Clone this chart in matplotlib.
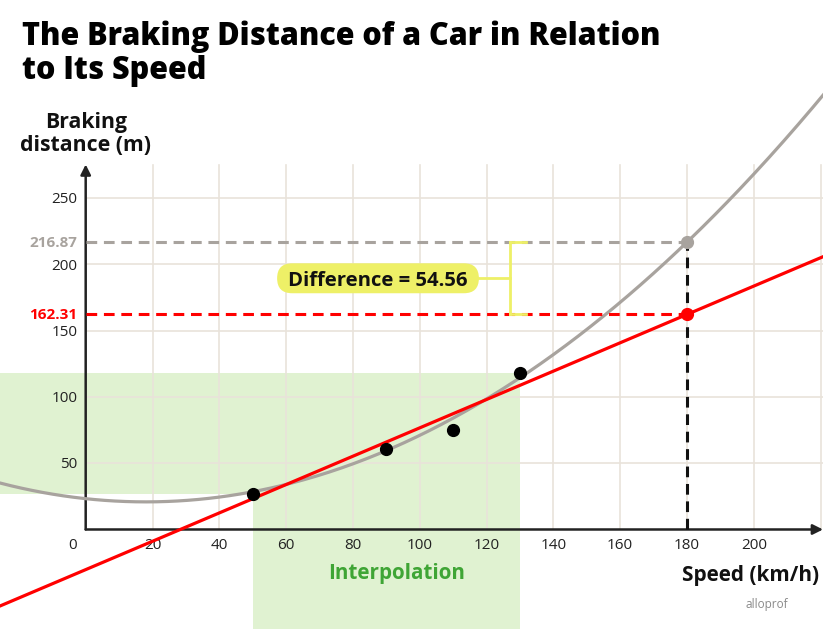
import numpy as np
import matplotlib
matplotlib.use("Agg")
import matplotlib.pyplot as plt
from matplotlib.patches import FancyBboxPatch, Rectangle

# ---- data ----
speeds = [50, 90, 110, 130]
distances = [26.8, 60.8, 75.1, 117.9]
quad_coef = [0.00747, -0.269, 23.26]      # curve of best fit (a, b, c)
lin_coef = [1.07, -30.29]                 # line of best fit (slope, intercept)
pred_speed = 180
pred_curve = 216.87
pred_line = 162.31
difference_label = "Difference = 54.56"
x_ticks = [0, 20, 40, 60, 80, 100, 120, 140, 160, 180, 200]
y_ticks = [50, 100, 150, 200, 250]
interp_range = [50, 130]

FONT = ["Open Sans", "DejaVu Sans"]
plt.rcParams['font.family'] = FONT

W, H = 823, 629
fig = plt.figure(figsize=(W / 100, H / 100), dpi=100)
ax = fig.add_axes([0, 0, 1, 1])
ax.set_xlim(-25.65, 220.7)
ax.set_ylim(-75.1, 399.6)
ax.axis('off')
renderer = fig.canvas.get_renderer()


def px(xp, yp):
    return xp / W, 1 - yp / H


def fit_width(t, target):
    bb = t.get_window_extent(renderer)
    t.set_fontsize(t.get_fontsize() * target / bb.width)


green = '#e0f2d1'
ymin_d, ymax_d = min(distances), max(distances)
ax.add_patch(Rectangle((-30, ymin_d), interp_range[1] + 30, ymax_d - ymin_d,
                       facecolor=green, edgecolor='none', zorder=0))
ax.add_patch(Rectangle((interp_range[0], -80), interp_range[1] - interp_range[0],
                       ymax_d + 80, facecolor=green, edgecolor='none', zorder=0))

# grid
gcol = '#e9e3da'
for xv in x_ticks[1:] + [220]:
    ax.plot([xv, xv], [0, 275], color=gcol, lw=1.2, zorder=1)
for yv in y_ticks:
    ax.plot([0, 221], [yv, yv], color=gcol, lw=1.2, zorder=1)

# axes arrows
ax.annotate('', xy=(220.7, 0), xytext=(0, 0),
            arrowprops=dict(arrowstyle='-|>,head_length=0.6,head_width=0.3',
                            color='#222222', lw=1.8, shrinkA=0, shrinkB=0), zorder=3)
ax.annotate('', xy=(0, 275.5), xytext=(0, 0),
            arrowprops=dict(arrowstyle='-|>,head_length=0.6,head_width=0.3',
                            color='#222222', lw=1.8, shrinkA=0, shrinkB=0), zorder=3)

# tick labels
for xv in x_ticks:
    xx = -3.8 if xv == 0 else xv
    ax.text(xx, -14.7, str(xv), ha='center', va='baseline', fontsize=11,
            color='#222222', zorder=5)
for yv in y_ticks:
    ax.text(-2.4, yv - 3.8, str(yv), ha='right', va='baseline', fontsize=11,
            color='#222222', zorder=5)

# curves
xs = np.linspace(-26, 222, 400)
a, b, c = quad_coef
ax.plot(xs, a * xs**2 + b * xs + c, color='#a8a39e', lw=2.3, zorder=4)
m, q = lin_coef
ax.plot(xs, m * xs + q, color='#ff0000', lw=2.3, zorder=5)

# dashed guides
ax.plot([0, pred_speed], [pred_curve, pred_curve], color='#a8a39e', lw=2.2,
        dashes=(3.5, 2.2), zorder=4)
ax.plot([0, pred_speed], [pred_line, pred_line], color='#ff0000', lw=2.2,
        dashes=(3.5, 2.2), zorder=4)
ax.plot([pred_speed, pred_speed], [0, pred_curve], color='#111111', lw=2.2,
        dashes=(3.5, 2.2), zorder=4)

# points
ax.plot(speeds, distances, 'o', color='black', ms=8.5, zorder=6)
ax.plot([pred_speed], [pred_curve], 'o', color='#a8a39e', ms=8.5, zorder=6)
ax.plot([pred_speed], [pred_line], 'o', color='#ff0000', ms=8.5, zorder=6)

# predicted value labels
ax.text(-2.4, pred_curve - 3.8, f"{pred_curve:.2f}", ha='right', va='baseline',
        fontsize=11, fontweight='bold', color='#a8a39e', zorder=5)
ax.text(-2.4, pred_line - 3.8, f"{pred_line:.2f}", ha='right', va='baseline',
        fontsize=11, fontweight='bold', color='#ff0000', zorder=5)

# difference bracket
yel = '#eef067'
bx = 127.0
mid = (pred_curve + pred_line) / 2
ax.plot([bx, bx], [pred_line, pred_curve], color=yel, lw=2.0, zorder=5)
ax.plot([bx, bx + 4.8], [pred_curve, pred_curve], color=yel, lw=2.0, zorder=5)
ax.plot([bx, bx + 4.8], [pred_line, pred_line], color=yel, lw=2.0, zorder=5)
ax.plot([115, bx], [mid, mid], color=yel, lw=2.0, zorder=5)
bx0, bx1 = 57.3, 117.7
bh = 22.6
ax.add_patch(FancyBboxPatch((bx0, mid - bh / 2), bx1 - bx0, bh,
                            boxstyle='round,pad=0,rounding_size=4.49',
                            mutation_aspect=2.52, fc=yel, ec='none', zorder=7))
td = ax.text((bx0 + bx1) / 2, mid, difference_label, ha='center',
             va='center_baseline', fontsize=14, fontweight='bold',
             color='#111111', zorder=8)
fit_width(td, 180)

# axis titles
t1 = fig.text(*px(86, 128.3), "Braking", ha='center', va='baseline',
              fontsize=14, fontweight='bold', color='#111111')
t2 = fig.text(*px(86, 150.7), "distance (m)", ha='center', va='baseline',
              fontsize=14, fontweight='bold', color='#111111')
fit_width(t2, 131)
t1.set_fontsize(t2.get_fontsize())
ts = fig.text(*px(819, 581), "Speed (km/h)", ha='right', va='baseline',
              fontsize=14, fontweight='bold', color='#111111')
fit_width(ts, 138)
ti = fig.text(*px(397, 579), "Interpolation", ha='center', va='baseline',
              fontsize=14, fontweight='bold', color='#3fa535')
fit_width(ti, 138)
fig.text(*px(767, 608), "alloprof", ha='center', va='baseline', fontsize=8.5,
         color='#8a8a8a')

# title
tt = fig.text(*px(22, 45), "The Braking Distance of a Car in Relation",
              ha='left', va='baseline', fontsize=22, fontweight='heavy',
              color='#000000')
fit_width(tt, 638)
fig.text(*px(22, 79), "to Its Speed", ha='left', va='baseline',
         fontsize=tt.get_fontsize(), fontweight='heavy', color='#000000')

fig.savefig('out.png', dpi=100)
